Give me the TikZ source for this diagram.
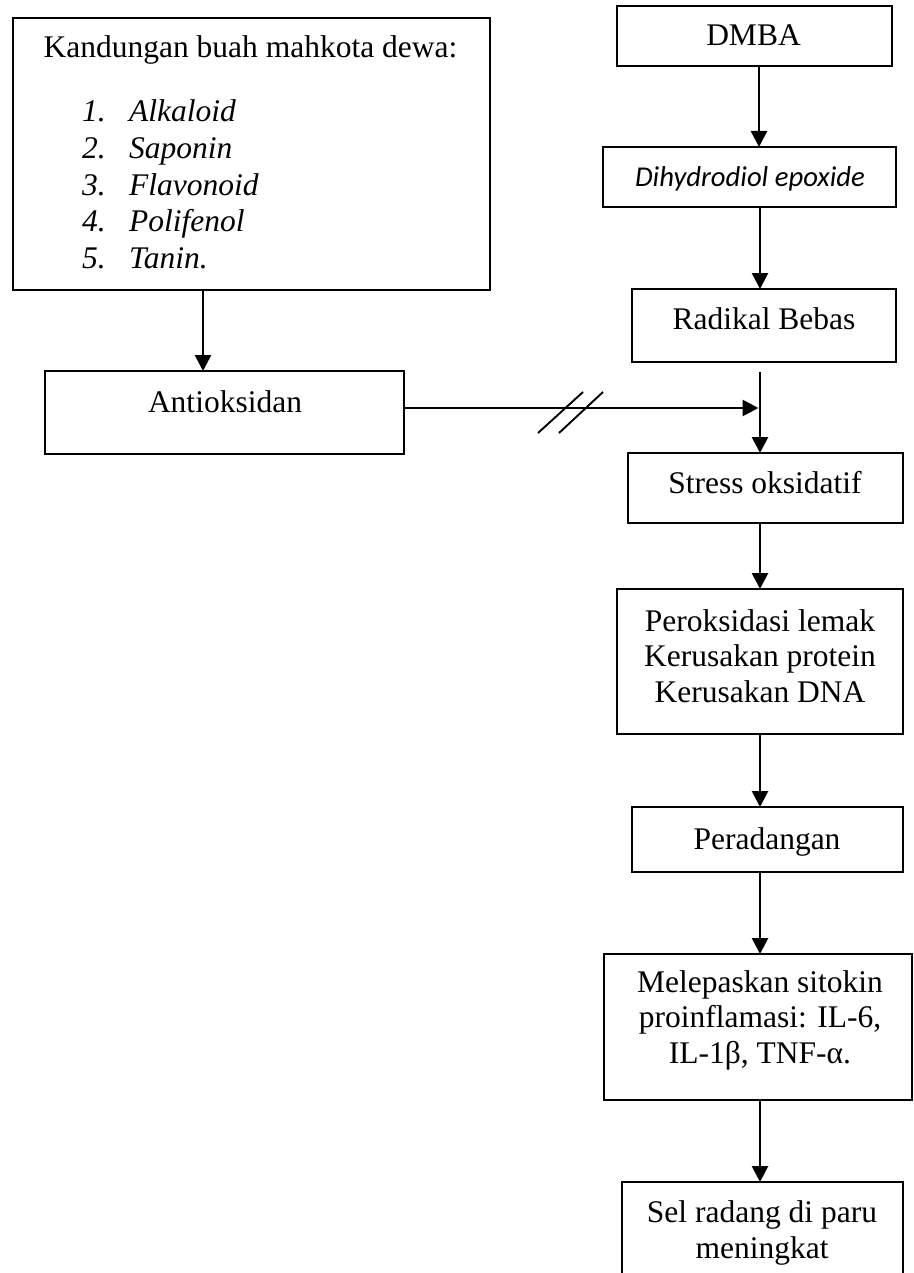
\documentclass[tikz,border=0pt]{standalone}
\usepackage{fontspec}
\setmainfont{Liberation Serif}
\newfontfamily\carlitofont{Carlito}
\usetikzlibrary{arrows.meta}
\begin{document}
\begin{tikzpicture}[x=1pt,y=-1pt,
  box/.style={draw, line width=1.9pt, inner sep=0pt, outer sep=0pt},
  txt/.style={anchor=base, inner sep=0pt, align=center, font=\fontsize{31.5}{35.5}\selectfont},
  flow/.style={line width=2.7pt, -{Triangle[length=16pt,width=16pt]}},
  slash/.style={line width=1.9pt}
  ]
\useasboundingbox (0,0) rectangle (913,1273);
\clip (0,0) rectangle (913,1273);

% boxes
\node[box, minimum width=477pt, minimum height=272pt] (kand)   at (251.5,154) {};
\node[box, minimum width=359pt, minimum height=83pt]  (anti)   at (224.5,412.5) {};
\node[box, minimum width=275pt, minimum height=60pt]  (dmba)   at (754.5,36) {};
\node[box, minimum width=293pt, minimum height=60pt]  (dihy)   at (749.5,177) {};
\node[box, minimum width=264pt, minimum height=73pt]  (rad)    at (764,325.5) {};
\node[box, minimum width=275pt, minimum height=70pt]  (stress) at (765.5,488) {};
\node[box, minimum width=286pt, minimum height=145pt] (perok)  at (760,661.5) {};
\node[box, minimum width=271pt, minimum height=65pt]  (perad)  at (767.5,839.5) {};
\node[box, minimum width=308pt, minimum height=146pt] (mele)   at (758,1027) {};
\node[box, minimum width=281pt, minimum height=118pt] (sel)    at (762.5,1241) {};

% texts (for multi-line nodes the base anchor is the last line's baseline)
\node[txt] (kandT) at (250.5,58) {Kandungan buah mahkota dewa:};
\node[anchor=base west, inner sep=0pt, align=left,
      font=\fontsize{31.5}{36.5}\selectfont\itshape] (list) at (82,268)
  {\makebox[47pt][l]{1.}Alkaloid\\
   \makebox[47pt][l]{2.}Saponin\\
   \makebox[47pt][l]{3.}Flavonoid\\
   \makebox[47pt][l]{4.}Polifenol\\
   \makebox[47pt][l]{5.}Tanin.};
\node[txt] (antiT)   at (225,412) {Antioksidan};
\node[txt] (dmbaT)   at (753.5,46) {DMBA};
\node[anchor=base, inner sep=0pt, font=\carlitofont\itshape\fontsize{28.7}{34}\selectfont] (dihyT) at (750,187) {Dihydrodiol epoxide};
\node[txt] (radT)    at (764,329) {Radikal Bebas};
\node[txt] (stressT) at (765,493) {Stress oksidatif};
\node[txt] (perokT)  at (760,702) {Peroksidasi lemak\\Kerusakan protein\\Kerusakan DNA};
\node[txt] (peradT)  at (767,849) {Peradangan};
\node[txt] (meleT)   at (760,1063) {Melepaskan sitokin\\proinflamasi: IL-6,\\IL-1β, TNF-α.};
\node[txt] (selT)    at (762,1258) {Sel radang di paru\\meningkat};

% connectors
\coordinate (ax) at (760,0);
\coordinate (axd) at (759,0);
\coordinate (ax2) at (203,0);
\coordinate (j0) at (760,372);
\coordinate (j) at (760,408);

\draw[flow] (kand.south -| ax2) -- (anti.north -| ax2);
\draw[flow] (dmba.south -| axd) -- (dihy.north -| axd);
\draw[flow] (dihy.south -| ax) -- (rad.north -| ax);
\draw[flow] (j0) -- (stress.north -| ax);
\draw[flow, shorten >=1.5pt] (anti.east |- j) -- (j);
\draw[flow] (stress.south -| ax) -- (perok.north -| ax);
\draw[flow] (perok.south -| ax) -- (perad.north -| ax);
\draw[flow] (perad.south -| ax) -- (mele.north -| ax);
\draw[flow] (mele.south -| ax) -- (sel.north -| ax);

% break marks
\draw[slash] (538,433) -- (583,392);
\draw[slash] (559,433) -- (603,392);
\end{tikzpicture}
\end{document}
